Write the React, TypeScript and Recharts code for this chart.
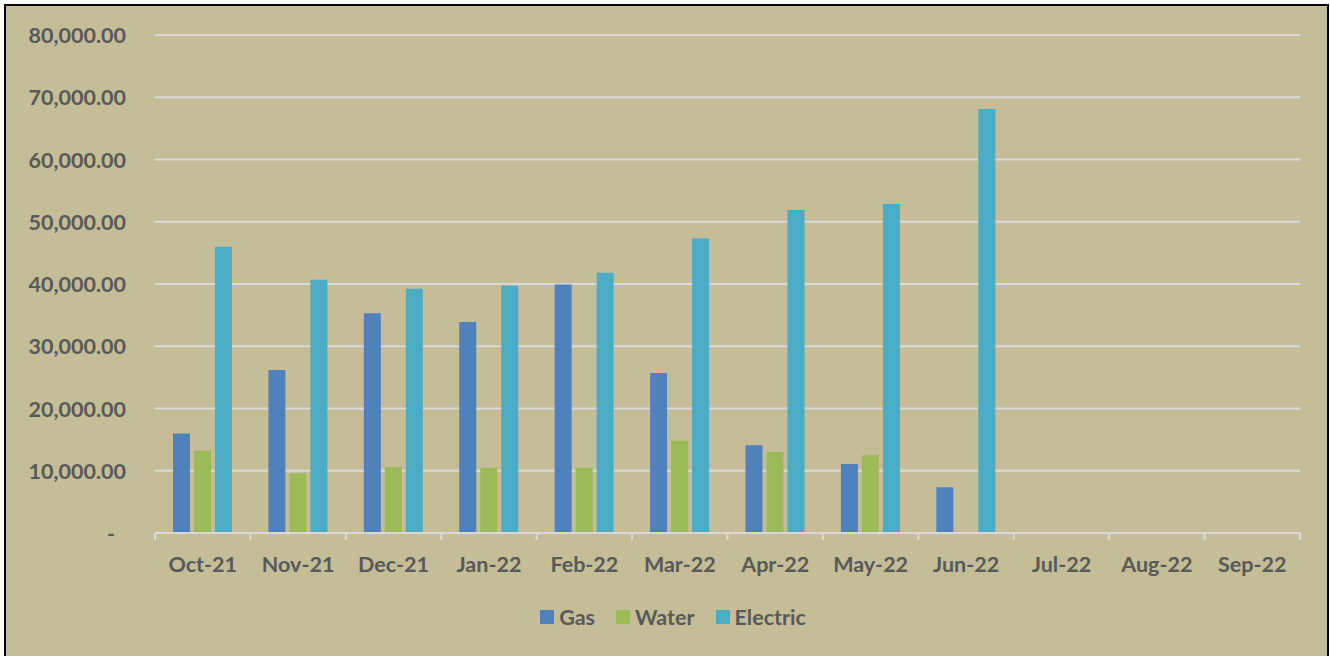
import { BarChart, Bar, XAxis, YAxis, CartesianGrid, Legend } from "recharts";

const months = [
  "Oct-21", "Nov-21", "Dec-21", "Jan-22", "Feb-22", "Mar-22",
  "Apr-22", "May-22", "Jun-22", "Jul-22", "Aug-22", "Sep-22",
];
const gas = [16000, 26200, 35300, 33900, 39900, 25700, 14100, 11100, 7350, null, null, null];
const water = [13200, 9600, 10600, 10500, 10500, 14800, 13000, 12500, null, null, null, null];
const electric = [46000, 40700, 39250, 39700, 41800, 47300, 51900, 52850, 68100, null, null, null];
const yTicks = [0, 10000, 20000, 30000, 40000, 50000, 60000, 70000, 80000];

const SERIES = [
  { key: "gas", name: "Gas", color: "#4F81BD" },
  { key: "water", name: "Water", color: "#9BBB59" },
  { key: "electric", name: "Electric", color: "#4BACC6" },
];

const CHART_W = 1321;
const CHART_H = 648;
const Y_W = 149;
const M_RIGHT = 27;
const BAND = (CHART_W - Y_W - M_RIGHT) / months.length;
const TEXT = "#595959";
const GRID = "#D9D9D9";
const FONT = "Lato, 'Open Sans', sans-serif";
const FS = 21.5;

const data = months.map((m, i) => ({
  month: m,
  gas: gas[i],
  water: water[i],
  electric: electric[i],
}));

function fmt(v: number) {
  return v.toLocaleString("en-US", { minimumFractionDigits: 2, maximumFractionDigits: 2 });
}

function YTick({ x, y, payload }: any) {
  const zero = payload.value === 0;
  return (
    <text
      x={zero ? x - 11 : x}
      y={y}
      textAnchor="end"
      dominantBaseline="central"
      fill={TEXT}
      fontSize={FS}
      fontWeight="bold"
      fontFamily={FONT}
    >
      {zero ? "-" : fmt(payload.value)}
    </text>
  );
}

function XTick({ x, y, payload, index }: any) {
  const left = x - BAND / 2;
  const right = x + BAND / 2;
  return (
    <g>
      <line x1={left} x2={left} y1={y} y2={y + 7} stroke={GRID} strokeWidth={2} />
      {index === months.length - 1 && (
        <line x1={right} x2={right} y1={y} y2={y + 7} stroke={GRID} strokeWidth={2} />
      )}
      <text
        x={x}
        y={y + 31}
        textAnchor="middle"
        dominantBaseline="central"
        fill={TEXT}
        fontSize={FS}
        fontWeight="bold"
        fontFamily={FONT}
      >
        {payload.value}
      </text>
    </g>
  );
}

function LegendContent() {
  return (
    <div style={{ display: "flex", justifyContent: "center", alignItems: "center", height: 30, paddingLeft: 40 }}>
      {SERIES.map((s, i) => (
        <div
          key={s.key}
          style={{ display: "flex", alignItems: "center", marginRight: i === SERIES.length - 1 ? 0 : 21 }}
        >
          <span style={{ width: 14, height: 14, background: s.color, display: "inline-block", marginRight: 5 }} />
          <span style={{ color: TEXT, fontSize: FS, fontWeight: "bold", fontFamily: FONT }}>{s.name}</span>
        </div>
      ))}
    </div>
  );
}

export default function App() {
  return (
    <div
      style={{
        position: "absolute",
        left: 4,
        top: 4,
        width: 1325,
        height: 656,
        boxSizing: "border-box",
        border: "2px solid #000",
        background: "#C4BD97",
      }}
    >
      <BarChart
        width={CHART_W}
        height={CHART_H}
        data={data}
        margin={{ top: 29, right: M_RIGHT, left: 0, bottom: 22 }}
        barSize={17}
        barGap={4}
      >
        <CartesianGrid vertical={false} stroke={GRID} strokeWidth={2} />
        <XAxis
          dataKey="month"
          height={69}
          tickSize={0}
          tickMargin={0}
          tickLine={false}
          axisLine={{ stroke: GRID, strokeWidth: 2 }}
          tick={<XTick />}
          interval={0}
        />
        <YAxis
          width={Y_W}
          domain={[0, 80000]}
          ticks={yTicks}
          tickSize={0}
          tickMargin={29}
          tickLine={false}
          axisLine={false}
          tick={<YTick />}
        />
        <Legend verticalAlign="bottom" height={30} content={<LegendContent />} />
        {SERIES.map((s) => (
          <Bar key={s.key} dataKey={s.key} name={s.name} fill={s.color} isAnimationActive={false} />
        ))}
      </BarChart>
    </div>
  );
}
